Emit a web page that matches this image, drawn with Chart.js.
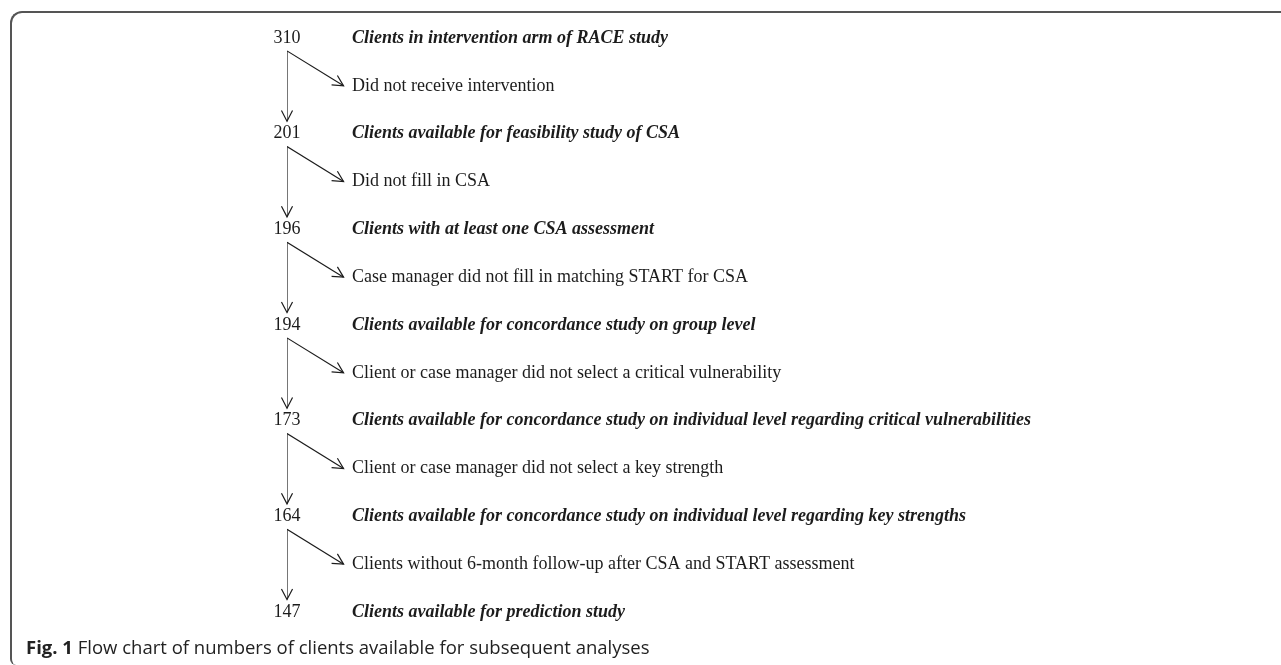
<!DOCTYPE html>
<html>
<head>
<meta charset="utf-8">
<title>Flow chart of clients</title>
<script src="https://cdn.jsdelivr.net/npm/chart.js@4/dist/chart.umd.min.js"></script>
<style>
  html, body { margin: 0; padding: 0; background: #fff; overflow: hidden; }
  #wrap { position: relative; width: 1281px; height: 665px; }
  #flow { position: absolute; left: 0; top: 0; }
  #frame {
    position: absolute; left: 10px; top: 11px; width: 1290px; height: 652px;
    border-top: 2px solid #555; border-left: 2px solid #555;
    border-top-left-radius: 12px; border-bottom-left-radius: 6px;
  }
  #caption {
    position: absolute; left: 26px; top: 635px;
    font-family: "Open Sans", sans-serif; font-size: 18.5px; line-height: 24px; color: #222;
    white-space: nowrap;
  }
  #caption b { font-weight: 700; }
</style>
</head>
<body>
<div id="wrap">
  <div id="frame"></div>
  <canvas id="flow" width="1281" height="665"></canvas>
  <div id="caption"><b>Fig. 1</b> Flow chart of numbers of clients available for subsequent analyses</div>
</div>
<script>
// numbers of clients left at each step
const counts = [310, 201, 196, 194, 173, 164, 147]

const stageLabels = [
  'Clients in intervention arm of RACE study',
  'Clients available for feasibility study of CSA',
  'Clients with at least one CSA assessment',
  'Clients available for concordance study on group level',
  'Clients available for concordance study on individual level regarding critical vulnerabilities',
  'Clients available for concordance study on individual level regarding key strengths',
  'Clients available for prediction study',
]

// reason for dropping out between step i and step i+1
const exclusionLabels = [
  'Did not receive intervention',
  'Did not fill in CSA',
  'Case manager did not fill in matching START for CSA',
  'Client or case manager did not select a critical vulnerability',
  'Client or case manager did not select a key strength',
  'Clients without 6-month follow-up after CSA and START assessment',
]

// rows: step i sits on row 2i, its exclusion on row 2i+1
const ink = '#1c1c1c'
const serif = '"Liberation Serif", "Times New Roman", serif'

const arrows = []
exclusionLabels.forEach((lab, i) => {
  // down to the next step
  arrows.push({
    type: 'line',
    data: [{ x: 0, y: 2 * i + 0.27 }, { x: 0, y: 2 * i + 1.74 }],
    borderColor: ink,
    borderWidth: 1.2,
    pointRadius: 0,
  })
  // off to the side, towards the exclusion text
  arrows.push({
    type: 'line',
    data: [{ x: 0, y: 2 * i + 0.27 }, { x: 0.87, y: 2 * i + 1 }],
    borderColor: ink,
    borderWidth: 1.2,
    pointRadius: 0,
  })
})

const arrowHeads = {
  id: 'arrowHeads',
  afterDatasetsDraw(chart) {
    const ctx = chart.ctx
    ctx.save()
    ctx.strokeStyle = ink
    ctx.lineWidth = 1.2
    chart.data.datasets.forEach((ds, k) => {
      const pts = chart.getDatasetMeta(k).data
      const a = pts[pts.length - 2], b = pts[pts.length - 1]
      const ang = Math.atan2(b.y - a.y, b.x - a.x)
      const len = 12, spread = 0.48
      ctx.beginPath()
      ctx.moveTo(b.x - len * Math.cos(ang - spread), b.y - len * Math.sin(ang - spread))
      ctx.lineTo(b.x, b.y)
      ctx.lineTo(b.x - len * Math.cos(ang + spread), b.y - len * Math.sin(ang + spread))
      ctx.stroke()
    })
    ctx.restore()
  },
}

const flowText = {
  id: 'flowText',
  afterDraw(chart) {
    const ctx = chart.ctx
    const xs = chart.scales.x, ys = chart.scales.y
    ctx.save()
    ctx.fillStyle = ink
    ctx.textBaseline = 'middle'
    counts.forEach((n, i) => {
      const y = ys.getPixelForValue(2 * i)
      ctx.font = '18px ' + serif
      ctx.textAlign = 'center'
      ctx.fillText(String(n), xs.getPixelForValue(0), y)
      ctx.font = 'italic bold 18px ' + serif
      ctx.textAlign = 'left'
      ctx.fillText(stageLabels[i], xs.getPixelForValue(1), y)
    })
    ctx.font = '18px ' + serif
    ctx.textAlign = 'left'
    exclusionLabels.forEach((lab, i) => {
      ctx.fillText(lab, xs.getPixelForValue(1), ys.getPixelForValue(2 * i + 1))
    })
    ctx.restore()
  },
}

const canvas = document.getElementById('flow')
const chart = new Chart(canvas, {
  type: 'scatter',
  data: { datasets: arrows },
  options: {
    responsive: false,
    animation: false,
    layout: { padding: { left: 287, right: 929, top: 38, bottom: 53 } },
    scales: {
      x: { type: 'linear', min: 0, max: 1, display: false },
      y: { type: 'linear', min: 0, max: 12, reverse: true, display: false },
    },
    plugins: { legend: { display: false }, tooltip: { enabled: false } },
  },
  plugins: [arrowHeads, flowText],
})
</script>
</body>
</html>
